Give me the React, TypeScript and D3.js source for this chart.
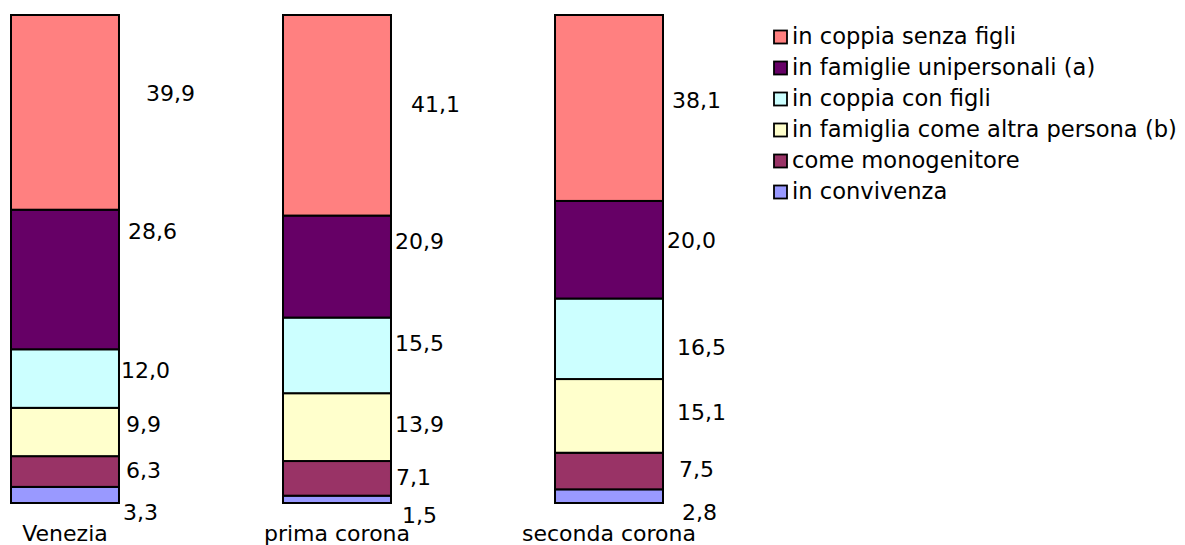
import React from "react";
import * as d3 from "d3";

const categories = ["Venezia", "prima corona", "seconda corona"];
// series, bottom to top of the stack
const seriesNames = [
  "in convivenza",
  "come monogenitore",
  "in famiglia come altra persona (b)",
  "in coppia con figli",
  "in famiglie unipersonali (a)",
  "in coppia senza figli",
];
const inConvivenza = [3.3, 1.5, 2.8];
const comeMonogenitore = [6.3, 7.1, 7.5];
const inFamigliaAltraPersona = [9.9, 13.9, 15.1];
const inCoppiaConFigli = [12.0, 15.5, 16.5];
const inFamiglieUnipersonali = [28.6, 20.9, 20.0];
const inCoppiaSenzaFigli = [39.9, 41.1, 38.1];

const seriesValues = [
  inConvivenza,
  comeMonogenitore,
  inFamigliaAltraPersona,
  inCoppiaConFigli,
  inFamiglieUnipersonali,
  inCoppiaSenzaFigli,
];

const colors = ["#9999FF", "#993366", "#FFFFCC", "#CCFFFF", "#660066", "#FF8080"];

// label layout tweaks (dx from bar right edge, dy from segment centre), per series then per category
const labelDx = [
  [4, 11, 19],
  [7, 5, 16],
  [7, 4, 14],
  [2, 4, 14],
  [9, 4, 4],
  [27, 20, 9],
];
const labelDy = [
  [17, 15.7, 15.8],
  [-1.5, -1.4, -2],
  [-8, -3, -3.9],
  [-8.6, -12.4, 8.2],
  [-48.5, -25.6, -9.7],
  [-19.4, -11.3, -8],
];

const W = 1185;
const H = 545;
const FONT = "'DejaVu Sans', Verdana, sans-serif";

const itFormat = d3
  .formatLocale({ decimal: ",", thousands: ".", grouping: [3], currency: ["", "€"] })
  .format(".1f");

export default function App() {
  const rows = categories.map((c, i) => {
    const r: any = { cat: c };
    seriesNames.forEach((s, j) => (r[s] = seriesValues[j][i]));
    return r;
  });
  const stacked = d3.stack<any>().keys(seriesNames)(rows);

  const x = d3
    .scaleBand<string>()
    .domain(categories)
    .range([11, 663])
    .paddingInner(0.603)
    .paddingOuter(0);
  const y = d3.scaleLinear().domain([0, 100]).range([503, 15]);

  const legendOrder = seriesNames.map((_, i) => i).reverse();

  return (
    <svg
      width={W}
      height={H}
      style={{ position: "absolute", left: 0, top: 0, background: "#fff" }}
      fontFamily={FONT}
    >
      {stacked.map((layer, j) => (
        <g key={layer.key}>
          {layer.map((d, i) => (
            <rect
              key={i}
              x={x(categories[i])}
              y={y(d[1])}
              width={x.bandwidth()}
              height={y(d[0]) - y(d[1])}
              fill={colors[j]}
              stroke="#000"
              strokeWidth={2}
            />
          ))}
        </g>
      ))}
      {stacked.map((layer, j) => (
        <g key={"l" + layer.key}>
          {layer.map((d, i) => {
            const cy = (y(d[0]) + y(d[1])) / 2 + labelDy[j][i];
            const lx = (x(categories[i]) as number) + x.bandwidth() + labelDx[j][i];
            return (
              <text key={i} x={lx} y={cy + 8} fontSize={22} fill="#000">
                {itFormat(d[1] - d[0])}
              </text>
            );
          })}
        </g>
      ))}
      {categories.map((c) => (
        <text
          key={c}
          x={(x(c) as number) + x.bandwidth() / 2}
          y={541}
          fontSize={22}
          textAnchor="middle"
          fill="#000"
        >
          {c}
        </text>
      ))}
      <g>
        {legendOrder.map((j, k) => {
          const cy = 37 + k * 31;
          return (
            <g key={seriesNames[j]}>
              <rect x={774} y={cy - 6.5} width={13} height={13} fill={colors[j]} stroke="#000" strokeWidth={1.8} />
              <text x={792} y={cy + 7} fontSize={22.6} fill="#000">
                {seriesNames[j]}
              </text>
            </g>
          );
        })}
      </g>
    </svg>
  );
}
